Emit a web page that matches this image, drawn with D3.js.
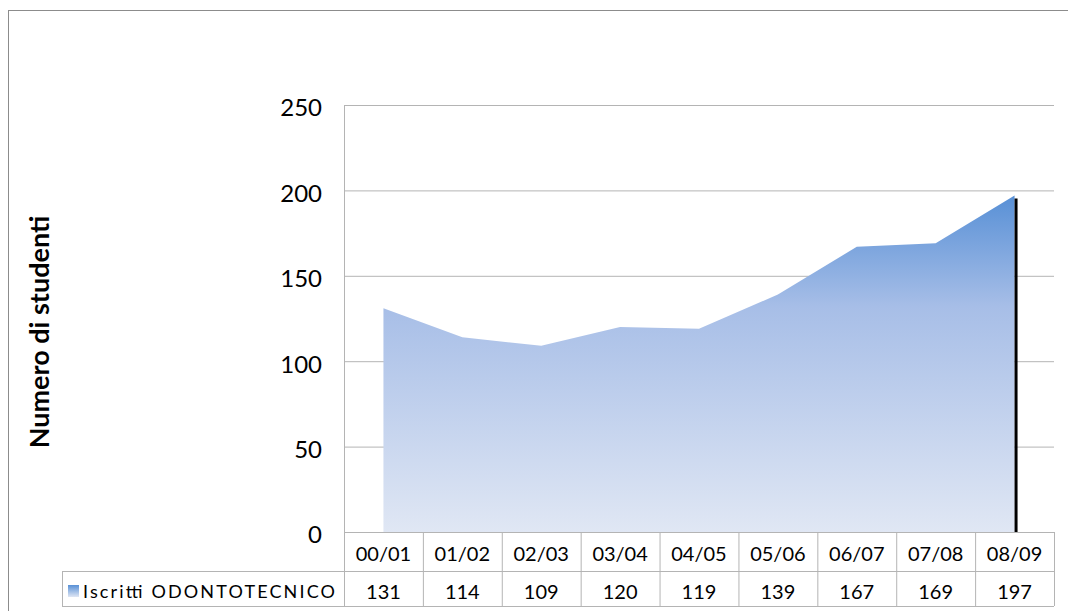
<!DOCTYPE html>
<html>
<head>
<meta charset="utf-8">
<script src="https://cdn.jsdelivr.net/npm/d3@7"></script>
<style>
  body { margin: 0; background: #fff; }
  svg { display: block; font-family: Lato, "Open Sans", sans-serif; }
</style>
</head>
<body>
<svg id="chart" width="1068" height="611"></svg>
<script>
const years = ['00/01', '01/02', '02/03', '03/04', '04/05', '05/06', '06/07', '07/08', '08/09'];
const iscritti = [131, 114, 109, 120, 119, 139, 167, 169, 197];
const yTicks = [0, 50, 100, 150, 200, 250];
const seriesName = 'Iscritti ODONTOTECNICO';
const axisTitle = 'Numero di studenti';

const svg = d3.select('#chart');
const plot = { left: 344, right: 1054, top: 105, bottom: 532 };
const table = { left: 62, row1: 571, bottom: 606 };
const gridColor = '#b4b4b4';

const x = d3.scaleBand().domain(years).range([plot.left, plot.right]);
const y = d3.scaleLinear().domain([0, 250]).range([plot.bottom, plot.top]);
const cx = (d) => x(d) + x.bandwidth() / 2;

// outer frame (right/bottom edges fall outside the picture)
svg.append('rect')
  .attr('x', 8.5).attr('y', 10.5)
  .attr('width', 1080).attr('height', 620)
  .attr('fill', 'none').attr('stroke', '#8c8c8c');

// gradient for area + legend swatch
const defs = svg.append('defs');
const grad = defs.append('linearGradient')
  .attr('id', 'areaGrad')
  .attr('gradientUnits', 'userSpaceOnUse')
  .attr('x1', 0).attr('x2', 0)
  .attr('y1', y(d3.max(iscritti))).attr('y2', y(0));
grad.append('stop').attr('offset', '0%').attr('stop-color', '#5890d6');
grad.append('stop').attr('offset', '33%').attr('stop-color', '#a7bee7');
grad.append('stop').attr('offset', '100%').attr('stop-color', '#e0e7f4');

const legGrad = defs.append('linearGradient')
  .attr('id', 'legGrad').attr('x1', 0).attr('x2', 0).attr('y1', 0).attr('y2', 1);
legGrad.append('stop').attr('offset', '0%').attr('stop-color', '#5890d6');
legGrad.append('stop').attr('offset', '100%').attr('stop-color', '#dfe6f4');

// gridlines
svg.append('g')
  .selectAll('line')
  .data(yTicks.filter((t) => t > 0))
  .enter().append('line')
    .attr('x1', plot.left).attr('x2', plot.right)
    .attr('y1', (d) => y(d) + 0.5).attr('y2', (d) => y(d) + 0.5)
    .attr('stroke', gridColor);

// area
const area = d3.area()
  .x((d, i) => cx(years[i]))
  .y0(y(0))
  .y1((d) => y(d));

svg.append('path')
  .datum(iscritti)
  .attr('d', area)
  .attr('fill', 'url(#areaGrad)');

// dark edge at last point
const last = years.length - 1;
svg.append('line')
  .attr('x1', cx(years[last]) + 1.5).attr('x2', cx(years[last]) + 1.5)
  .attr('y1', y(iscritti[last]) + 3).attr('y2', y(0))
  .attr('stroke', '#000').attr('stroke-width', 3);

// y axis
const yAxis = d3.axisLeft(y).tickValues(yTicks).tickSize(0).tickPadding(22);
const yg = svg.append('g')
  .attr('transform', `translate(${plot.left},0)`)
  .call(yAxis);
yg.select('.domain').remove();
yg.selectAll('text')
  .attr('font-family', 'Lato, sans-serif')
  .attr('font-size', 24)
  .attr('fill', '#000')
  .attr('dy', '0.45em');

svg.append('text')
  .attr('transform', 'translate(38,332) rotate(-90)')
  .attr('text-anchor', 'middle')
  .attr('dominant-baseline', 'central')
  .attr('font-size', 27)
  .attr('font-weight', 'bold')
  .text(axisTitle);

// data table
const tg = svg.append('g').attr('stroke', gridColor).attr('fill', 'none');
tg.append('line').attr('x1', plot.left).attr('x2', plot.right)
  .attr('y1', plot.bottom + 0.5).attr('y2', plot.bottom + 0.5);
tg.append('line').attr('x1', table.left).attr('x2', plot.right)
  .attr('y1', table.row1 + 0.5).attr('y2', table.row1 + 0.5);
tg.append('line').attr('x1', table.left).attr('x2', plot.right)
  .attr('y1', table.bottom + 0.5).attr('y2', table.bottom + 0.5);
tg.append('line').attr('x1', table.left + 0.5).attr('x2', table.left + 0.5)
  .attr('y1', table.row1).attr('y2', table.bottom);
tg.append('line').attr('x1', plot.left + 0.5).attr('x2', plot.left + 0.5)
  .attr('y1', plot.top).attr('y2', table.bottom);
tg.selectAll('.sep')
  .data(years)
  .enter().append('line')
    .attr('x1', (d) => x(d) + x.bandwidth() + 0.5)
    .attr('x2', (d) => x(d) + x.bandwidth() + 0.5)
    .attr('y1', plot.bottom).attr('y2', table.bottom);

svg.append('g')
  .selectAll('text')
  .data(years)
  .enter().append('text')
    .attr('x', cx)
    .attr('y', (plot.bottom + table.row1) / 2 + 1)
    .attr('text-anchor', 'middle')
    .attr('dominant-baseline', 'central')
    .attr('font-size', 20)
    .text((d) => d);

svg.append('g')
  .selectAll('text')
  .data(iscritti)
  .enter().append('text')
    .attr('x', (d, i) => cx(years[i]))
    .attr('y', (table.row1 + table.bottom) / 2 + 2)
    .attr('text-anchor', 'middle')
    .attr('dominant-baseline', 'central')
    .attr('font-size', 20)
    .text((d) => d);

// legend key in table
svg.append('rect')
  .attr('x', 68).attr('y', 585)
  .attr('width', 11).attr('height', 12)
  .attr('fill', 'url(#legGrad)');
svg.append('text')
  .attr('x', 83).attr('y', (table.row1 + table.bottom) / 2 + 2)
  .attr('dominant-baseline', 'central')
  .attr('font-size', 18)
  .attr('textLength', 252)
  .attr('lengthAdjust', 'spacing')
  .text(seriesName);
</script>
</body>
</html>
